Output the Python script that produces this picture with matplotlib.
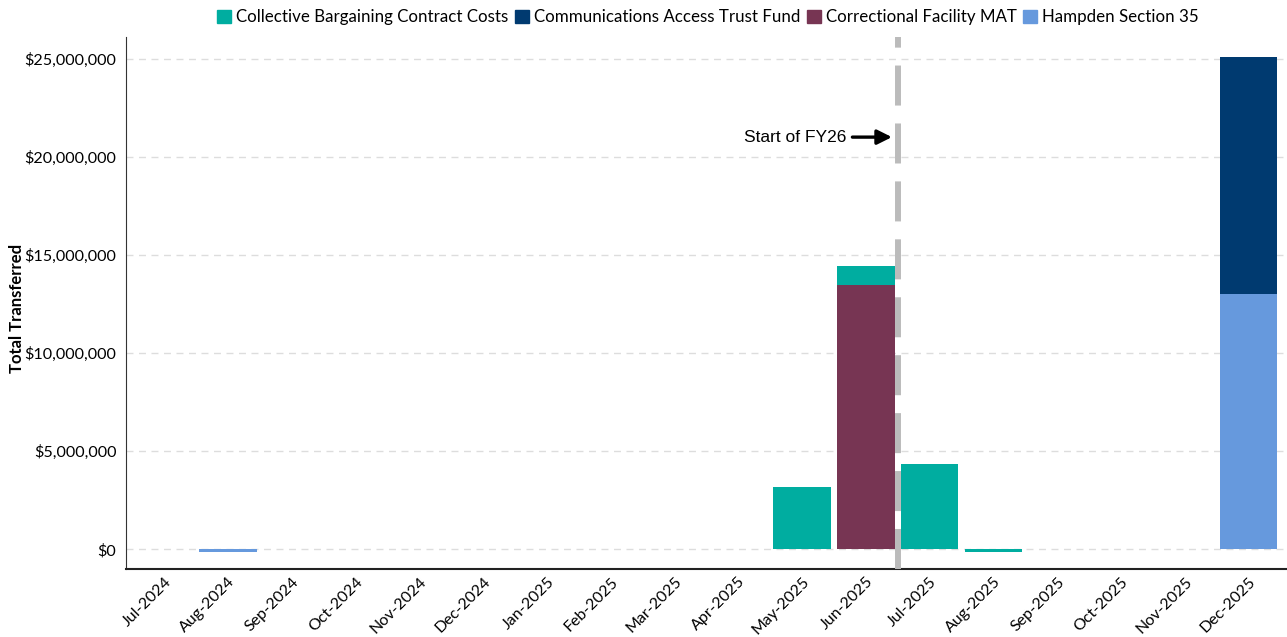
import numpy as np
import matplotlib
matplotlib.use('Agg')
import matplotlib.pyplot as plt
from matplotlib.ticker import FuncFormatter

# Datos
months = ['Jul-2024', 'Aug-2024', 'Sep-2024', 'Oct-2024', 'Nov-2024', 'Dec-2024',
          'Jan-2025', 'Feb-2025', 'Mar-2025', 'Apr-2025', 'May-2025', 'Jun-2025',
          'Jul-2025', 'Aug-2025', 'Sep-2025', 'Oct-2025', 'Nov-2025', 'Dec-2025']
series_names = ['Collective Bargaining Contract Costs', 'Communications Access Trust Fund',
                'Correctional Facility MAT', 'Hampden Section 35']
cbcc = [0, 0, 0, 0, 0, 0, 0, 0, 0, 0, 3160000, 1000000, 4330000, -120000, 0, 0, 0, 0]
catf = [0, 0, 0, 0, 0, 0, 0, 0, 0, 0, 0, 0, 0, 0, 0, 0, 0, 12070000]
cfmat = [0, 0, 0, 0, 0, 0, 0, 0, 0, 0, 0, 13450000, 0, 0, 0, 0, 0, 0]
hampden = [0, -150000, 0, 0, 0, 0, 0, 0, 0, 0, 0, 0, 0, 0, 0, 0, 0, 13030000]
colors = ['#00ADA0', '#003A70', '#773553', '#6699DD']

plt.rcParams['font.family'] = ['Lato', 'DejaVu Sans']

fig = plt.figure(figsize=(12.87, 6.37), dpi=100)
ax = fig.add_axes([126/1287, 68/637, 1 - 126/1287, (569-37)/637])

x = np.arange(len(months))
w = 0.9

# apilado: positivos hacia arriba, negativos hacia abajo
pos_base = np.zeros(len(months))
neg_base = np.zeros(len(months))
# orden de apilado: Hampden / CFMAT abajo, luego CBCC y CATF
order = [3, 2, 0, 1]
data = [cbcc, catf, cfmat, hampden]
for i in order:
    vals = np.array(data[i], dtype=float)
    base = np.where(vals >= 0, pos_base, neg_base)
    ax.bar(x, vals, w, bottom=base, color=colors[i], zorder=3)
    pos_base += np.where(vals > 0, vals, 0)
    neg_base += np.where(vals < 0, vals, 0)

# leyenda
handles = [plt.Rectangle((0, 0), 1, 1, color=c) for c in colors]
fig.legend(handles, series_names, loc='center', bbox_to_anchor=(708/1287, 1 - 17/637),
           ncol=4, frameon=False, fontsize=12.2, handlelength=0.8, handleheight=0.8,
           handletextpad=0.3, columnspacing=0.4)

# linea de inicio FY26
ax.axvline(11.5, color='#BBBBBB', lw=4.3, ls=(0, (6.7, 3)), zorder=4)
ax.annotate('Start of FY26', xy=(11.45, 21000000), xytext=(10.7, 21000000),
            ha='right', va='center', fontsize=12.5, family='Liberation Sans',
            arrowprops=dict(arrowstyle='-|>', color='black', lw=2.4, mutation_scale=22))

ax.set_xlim(-0.6, 17.6)
ax.set_ylim(-1000000, 26100000)
ax.set_xticks(x)
ax.set_xticklabels(months, rotation=45, ha='right', rotation_mode='anchor', fontsize=11.5)
ax.set_yticks(np.arange(0, 25000001, 5000000))
ax.yaxis.set_major_formatter(FuncFormatter(lambda v, p: '${:,.0f}'.format(v)))
ax.tick_params(axis='y', labelsize=11.6, length=0, pad=7)
ax.tick_params(axis='x', length=0, pad=4)
ax.set_ylabel('Total Transferred', fontweight='bold', fontsize=12)
ax.yaxis.set_label_coords(-0.087, 0.49)

ax.grid(axis='y', color='#DDDDDD', ls=(0, (5, 4)), lw=1, zorder=0)
for s in ['top', 'right']:
    ax.spines[s].set_visible(False)
ax.spines['left'].set_color('#333333')
ax.spines['bottom'].set_color('#222222')
ax.spines['bottom'].set_linewidth(1.5)

fig.savefig('out.png', dpi=100)
